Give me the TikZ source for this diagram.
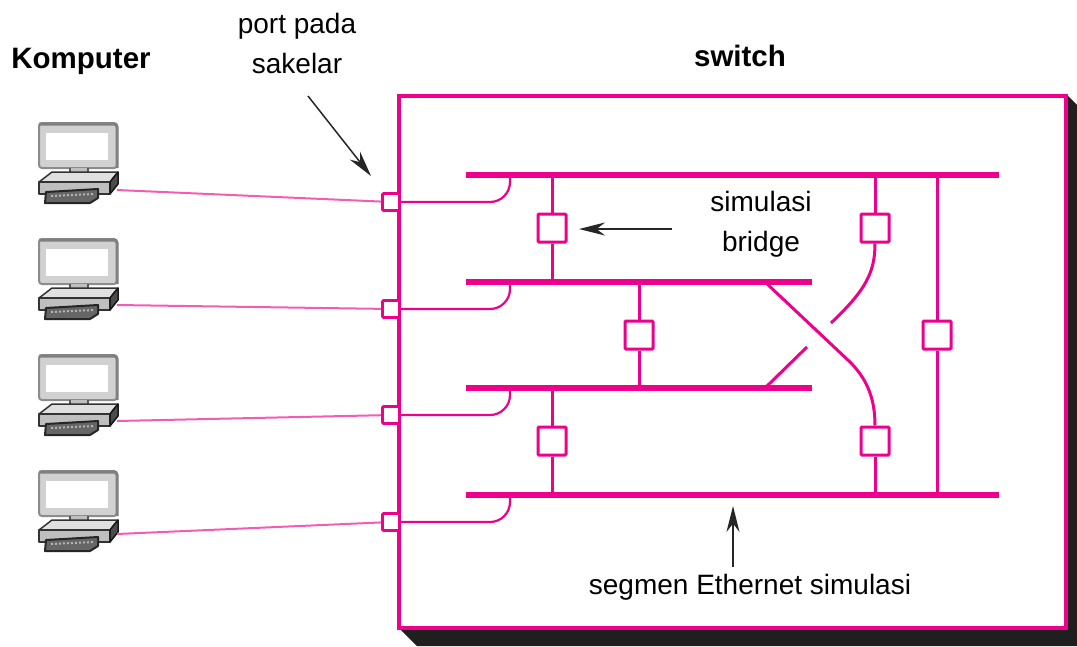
\documentclass[tikz,border=0pt]{standalone}
\usepackage{fontspec}
\setmainfont{Liberation Sans}
\usetikzlibrary{arrows.meta}
\definecolor{switchpink}{HTML}{EC008C}
\definecolor{kabelpink}{HTML}{F45CB4}

\begin{document}
\begin{tikzpicture}[
  x=1pt, y=-1pt,
  kotak/.style={draw=switchpink, line width=4pt, fill=white},
  bus/.style={draw=switchpink, line width=6pt},
  tap/.style={draw=switchpink, line width=2.2pt, rounded corners=20pt},
  link/.style={draw=switchpink, line width=3pt},
  kabel/.style={draw=kabelpink, line width=2pt},
  port/.style={draw=switchpink, line width=2.8pt, fill=white, rounded corners=1pt, minimum size=17pt, inner sep=0pt},
  bridge/.style={draw=switchpink, line width=3pt, fill=white, rounded corners=1pt, minimum size=28pt, inner sep=0pt},
  panah/.style={-{Stealth[length=26pt, width=13pt]}, line width=1.5pt, black!85},
  teks/.style={font=\fontsize{28}{32}\selectfont, inner sep=0pt, anchor=center},
  judul/.style={font=\fontsize{29.5}{32}\selectfont\bfseries, inner sep=0pt, anchor=center},
  layar/.pic={
    \filldraw[draw=black!45, fill=black!18, line width=2pt, rounded corners=3pt] (1,1) rectangle (79,46);
    \draw[black!50, line width=3pt, rounded corners=3pt] (1,2) -- (79,2) -- (79,46);
    \fill[white] (8,11) rectangle (70,38);
    \fill[black!25] (32,46) rectangle (50,56);
    \draw[black!65, line width=1.8pt] (32,46) -- (32,56) (50,46) -- (50,56);
    \filldraw[draw=black!80, fill=black!12, line width=1.5pt, line join=round] (1,60) -- (14,50) -- (80,50) -- (72,60) -- cycle;
    \filldraw[draw=black!80, fill=black!25, line width=1.5pt, line join=round] (1,60) rectangle (72,72);
    \filldraw[draw=black!90, fill=black!70, line width=1.5pt, line join=round] (72,60) -- (80,50) -- (80,62) -- (72,72) -- cycle;
    \filldraw[draw=black!85, fill=black!60, line width=2pt, line join=round] (8,70) -- (60,67) -- (60,76) -- (52,81) -- (7,81) -- cycle;
    \draw[white!70!black, line width=2pt, dash pattern=on 2pt off 2pt] (13,74) -- (56,72);
  },
]
\useasboundingbox (0,0) rectangle (1077,646);

% === SWITCH BOX WITH SHADOW ===
\fill[black!88] (1067,95) -- (1077,105) -- (1077,646) -- (417,646) -- (399,628) -- cycle;
\draw[kotak] (399,96) rectangle (1066,628);

% === COMPUTERS AND PORTS ===
\foreach \i/\ytop/\ykabel/\yport in {1/122/190/202, 2/238/305/309, 3/354/421/415, 4/470/534/522} {
  \pic at (38,\ytop) {layar};
  \coordinate (k\i) at (117,\ykabel);
  \node[port] (p\i) at (391,\yport) {};
  \draw[kabel] (k\i) -- (p\i);
}

% === ETHERNET SEGMENTS ===
\draw[bus] (466,175) coordinate (s1) -- (999,175);
\draw[bus] (466,282) coordinate (s2) -- (812,282);
\draw[bus] (466,388) coordinate (s3) -- (812,388);
\draw[bus] (466,495) coordinate (s4) -- (999,495);

\foreach \i/\ybus in {1/175, 2/282, 3/388, 4/495} {
  \coordinate (t\i) at (510,\ybus);
  \draw[tap] (p\i.east) -| (t\i);
}

% === BRIDGES ===
\node[bridge] (b1) at (552,228) {};
\node[bridge] (b2) at (875,228) {};
\node[bridge] (b3) at (639,335) {};
\node[bridge] (b4) at (937,335) {};
\node[bridge] (b5) at (552,441) {};
\node[bridge] (b6) at (875,441) {};

\draw[link] (552,175) -- (b1);
\draw[link] (b1) -- (552,282);
\draw[link] (639,282) -- (b3);
\draw[link] (b3) -- (639,388);
\draw[link] (552,388) -- (b5);
\draw[link] (b5) -- (552,495);
\draw[link] (875,175) -- (b2);
\draw[link] (875,495) -- (b6);
\draw[link] (937,175) -- (b4);
\draw[link] (b4) -- (937,495);

% crossing links
\coordinate (c1) at (831,323);
\coordinate (c2) at (807,347);
\coordinate (c3) at (765,388);
\coordinate (c4) at (765,282);
\draw[link] (b2.south) .. controls (875,272) and (866,290) .. (c1);
\draw[link] (c2) -- (c3);
\draw[link] (c4) -- (850,362) .. controls (868,380) and (875,400) .. (b6.north);

% === ARROWS ===
\coordinate (a1) at (308,96);
\coordinate (a2) at (371,176);
\coordinate (a3) at (672,229);
\coordinate (a4) at (579,229);
\coordinate (a5) at (733,567);
\coordinate (a6) at (733,506);
\draw[panah] (a1) -- (a2);
\draw[panah] (a3) -- (a4);
\draw[panah] (a5) -- (a6);

% === LABELS ===
\node[judul] (komputer) at (81,61) {Komputer};
\node[judul] (switch) at (740,56) {switch};
\node[teks] (port1) at (297,26) {port pada};
\node[teks] (port2) at (297,63) {sakelar};
\node[teks] (sim1) at (761,201) {simulasi};
\node[teks] (sim2) at (761,244) {bridge};
\node[teks] (segmen) at (750,587) {segmen Ethernet simulasi};
\end{tikzpicture}
\end{document}
